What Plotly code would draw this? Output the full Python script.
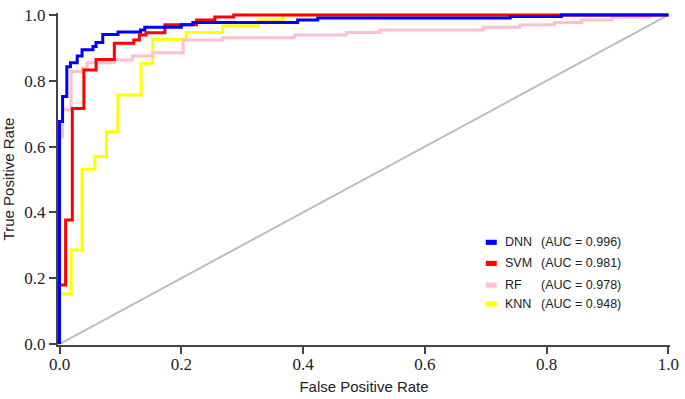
import plotly.graph_objects as go

# ROC step points (false positive rate, true positive rate)
dnn_fpr = [0, 0, 0.005, 0.012, 0.018, 0.029, 0.037, 0.055, 0.060, 0.071, 0.096, 0.133, 0.140, 0.200, 0.219, 0.391, 0.424, 0.740, 0.824, 1.0]
dnn_tpr = [0, 0.676, 0.752, 0.843, 0.855, 0.875, 0.894, 0.904, 0.916, 0.941, 0.948, 0.954, 0.963, 0.970, 0.977, 0.985, 0.991, 0.995, 1.0, 1.0]

svm_fpr = [0, 0, 0.010, 0.021, 0.040, 0.060, 0.090, 0.122, 0.131, 0.142, 0.173, 0.225, 0.255, 0.286, 1.0]
svm_tpr = [0, 0.179, 0.377, 0.716, 0.833, 0.865, 0.914, 0.924, 0.939, 0.946, 0.970, 0.985, 0.994, 1.0, 1.0]

rf_fpr = [0, 0, 0.005, 0.019, 0.038, 0.045, 0.088, 0.120, 0.153, 0.203, 0.268, 0.386, 0.471, 0.526, 0.696, 0.756, 0.813, 0.857, 0.907, 0.970, 1.0]
rf_tpr = [0, 0.630, 0.711, 0.828, 0.838, 0.855, 0.863, 0.875, 0.885, 0.924, 0.931, 0.939, 0.947, 0.954, 0.963, 0.970, 0.977, 0.985, 0.993, 1.0, 1.0]

knn_fpr = [0, 0, 0.019, 0.037, 0.058, 0.077, 0.096, 0.134, 0.153, 0.208, 0.268, 0.326, 0.367, 1.0]
knn_tpr = [0, 0.152, 0.286, 0.531, 0.569, 0.645, 0.757, 0.853, 0.926, 0.947, 0.967, 0.985, 1.0, 1.0]

model_names = ["DNN", "SVM", "RF", "KNN"]
auc_values = [0.996, 0.981, 0.978, 0.948]
chance_x = [0, 1]
chance_y = [0, 1]

tick_vals = [0.0, 0.2, 0.4, 0.6, 0.8, 1.0]
tick_text = ["0.0", "0.2", "0.4", "0.6", "0.8", "1.0"]

colors = {"DNN": "#0000ff", "SVM": "#ff0000", "RF": "#ffc0cb", "KNN": "#ffff00"}
series = {
    "DNN": (dnn_fpr, dnn_tpr),
    "SVM": (svm_fpr, svm_tpr),
    "RF": (rf_fpr, rf_tpr),
    "KNN": (knn_fpr, knn_tpr),
}

fig = go.Figure()
fig.add_trace(go.Scatter(x=chance_x, y=chance_y, mode="lines",
                         line=dict(color="#bdbdbd", width=2), showlegend=False, hoverinfo="skip"))
for name in ["KNN", "RF", "SVM", "DNN"]:
    fx, fy = series[name]
    fig.add_trace(go.Scatter(x=fx, y=fy, mode="lines", name=name,
                             line=dict(color=colors[name], width=3, shape="hv"),
                             showlegend=False))

# manual legend (boxes + text), placed in data coordinates
row_y = [0.309, 0.245, 0.179, 0.122]
for i, name in enumerate(model_names):
    yc = row_y[i]
    fig.add_shape(type="rect", xref="x", yref="y",
                  x0=0.700, x1=0.718, y0=yc - 0.0078, y1=yc + 0.0078,
                  line=dict(width=0), fillcolor=colors[name])
    fig.add_annotation(x=0.7285, y=yc, xref="x", yref="y", text=name,
                       showarrow=False, xanchor="left", yanchor="middle",
                       font=dict(family="Liberation Sans", size=12.5, color="#222"))
    fig.add_annotation(x=0.787, y=yc, xref="x", yref="y",
                       text="(AUC = %.3f)" % auc_values[i],
                       showarrow=False, xanchor="left", yanchor="middle",
                       font=dict(family="Liberation Sans", size=12.5, color="#222"))

serif = "Liberation Serif"
axis_common = dict(
    showgrid=False, zeroline=False, showline=True, linecolor="#444", linewidth=2,
    ticks="outside", ticklen=7, tickwidth=2, tickcolor="#444",
    tickvals=tick_vals, ticktext=tick_text,
    tickfont=dict(family=serif, size=17, color="#222"),
)
fig.update_xaxes(range=[-0.0025, 1.0025],
                 title=dict(text="False Positive Rate", standoff=8,
                            font=dict(family="Liberation Sans", size=15, color="#222")),
                 **axis_common)
fig.update_yaxes(range=[-0.003, 1.006],
                 title=dict(text="True Positive Rate", standoff=8,
                            font=dict(family="Liberation Sans", size=15, color="#222")),
                 **axis_common)
try:
    fig.update_xaxes(ticklabelstandoff=-4)
except Exception:
    pass
fig.update_layout(width=685, height=399, margin=dict(l=58, r=15, t=13, b=54, autoexpand=False),
                  plot_bgcolor="white", paper_bgcolor="white", showlegend=False)
fig.write_html("out.html", config={"displayModeBar": False},
               post_script="document.body.style.margin='0';document.body.style.padding='0';")
